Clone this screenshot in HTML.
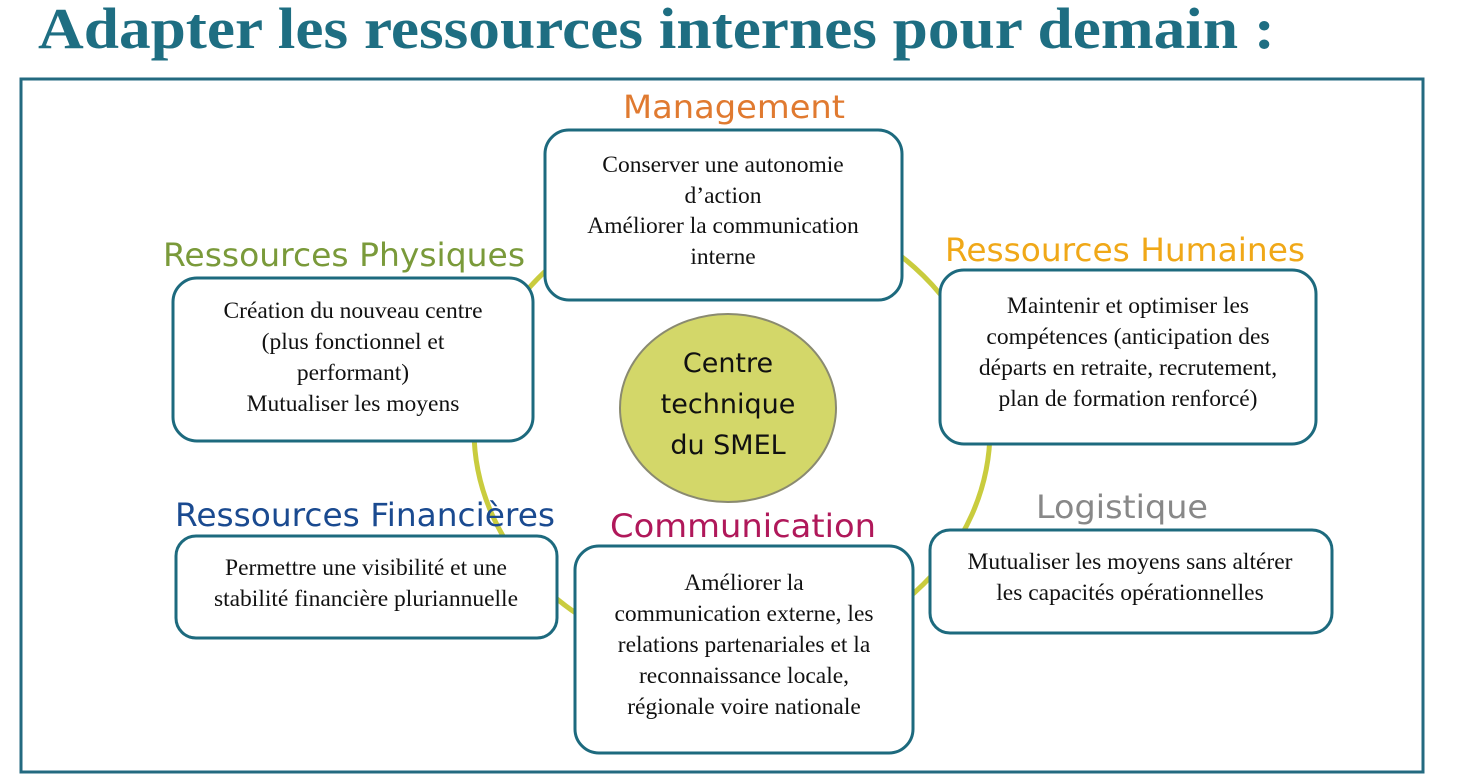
<!DOCTYPE html>
<html><head><meta charset="utf-8"><style>
html,body{margin:0;padding:0;background:#fff;}
svg{display:block;}
.b{fill:#fff;stroke:#1d6a7e;stroke-width:3;}
.t{font-family:"Liberation Serif",serif;font-size:23.5px;fill:#111;text-anchor:middle;}
.h{font-family:"DejaVu Sans","Liberation Sans",sans-serif;font-size:32px;}
</style></head><body>
<svg width="1468" height="780" viewBox="0 0 1468 780" xmlns="http://www.w3.org/2000/svg">
<text x="38" y="48" font-family="Liberation Serif,serif" font-weight="bold" font-size="58" fill="#1e6e82" textLength="1237" lengthAdjust="spacingAndGlyphs">Adapter les ressources internes pour demain :</text>
<rect x="21" y="79" width="1402" height="693" fill="none" stroke="#236a80" stroke-width="3"/>
<ellipse cx="732" cy="430" rx="258" ry="230" fill="none" stroke="#c9cc3e" stroke-width="5"/>
<ellipse cx="728" cy="408" rx="108" ry="94" fill="#d3d769" stroke="#8a8a70" stroke-width="2"/>
<g font-family="Comic Sans MS,DejaVu Sans,sans-serif" font-size="27" fill="#111" text-anchor="middle">
<text x="728" y="372">Centre</text><text x="728" y="413">technique</text><text x="728" y="454">du SMEL</text></g>

<rect class="b" x="545" y="130" width="357" height="170" rx="24"/>
<rect class="b" x="173" y="278" width="360" height="163" rx="24"/>
<rect class="b" x="940" y="270" width="376" height="174" rx="24"/>
<rect class="b" x="176" y="536" width="381" height="102" rx="20"/>
<rect class="b" x="575" y="546" width="338" height="207" rx="24"/>
<rect class="b" x="930" y="530" width="402" height="103" rx="20"/>

<text class="h" x="623" y="118" fill="#e07a30" textLength="222" lengthAdjust="spacingAndGlyphs">Management</text>
<text class="h" x="163" y="266" fill="#7a9a3a" textLength="362" lengthAdjust="spacingAndGlyphs">Ressources Physiques</text>
<text class="h" x="945" y="261" fill="#f0a818" textLength="360" lengthAdjust="spacingAndGlyphs">Ressources Humaines</text>
<text class="h" x="175" y="526" fill="#1a4a90" textLength="380" lengthAdjust="spacingAndGlyphs">Ressources Financières</text>
<text class="h" x="610" y="537" fill="#b0185a" textLength="266" lengthAdjust="spacingAndGlyphs">Communication</text>
<text class="h" x="1036" y="518" fill="#888" textLength="172" lengthAdjust="spacingAndGlyphs">Logistique</text>

<text class="t" x="723" y="172">Conserver une autonomie</text>
<text class="t" x="723" y="203">d’action</text>
<text class="t" x="723" y="233">Améliorer la  communication</text>
<text class="t" x="723" y="264">interne</text>

<text class="t" x="353" y="318">Création du nouveau centre</text>
<text class="t" x="353" y="349">(plus fonctionnel et</text>
<text class="t" x="353" y="380">performant)</text>
<text class="t" x="353" y="411">Mutualiser les moyens</text>

<text class="t" x="1128" y="313">Maintenir et optimiser les</text>
<text class="t" x="1128" y="344">compétences (anticipation des</text>
<text class="t" x="1128" y="375">départs en retraite, recrutement,</text>
<text class="t" x="1128" y="406">plan de formation renforcé)</text>

<text class="t" x="366" y="575">Permettre une visibilité et une</text>
<text class="t" x="366" y="606">stabilité financière pluriannuelle</text>

<text class="t" x="744" y="590">Améliorer la</text>
<text class="t" x="744" y="621">communication externe, les</text>
<text class="t" x="744" y="652">relations partenariales et la</text>
<text class="t" x="744" y="683">reconnaissance locale,</text>
<text class="t" x="744" y="714">régionale voire nationale</text>

<text class="t" x="1130" y="569">Mutualiser les moyens sans altérer</text>
<text class="t" x="1130" y="600">les capacités opérationnelles</text>
</svg>
</body></html>
